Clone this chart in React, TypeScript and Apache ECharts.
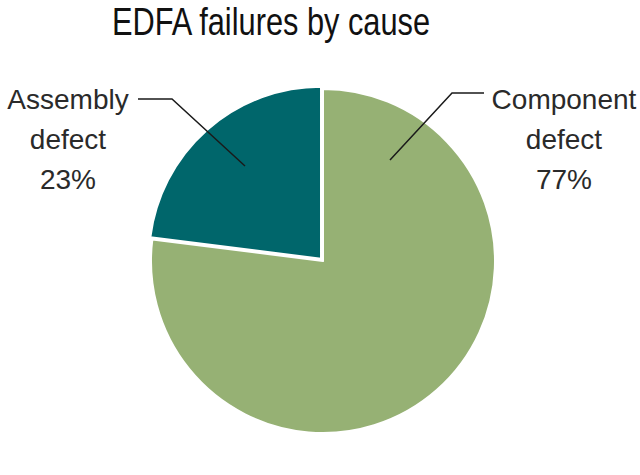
import React, { useEffect, useRef } from "react";
import * as echarts from "echarts";

const titleText = "EDFA failures by cause";
const categories = ["Component\ndefect", "Assembly\ndefect"];
const values = [77, 23];
const colors = ["#96b174", "#00666b"];

export default function App() {
  const ref = useRef<HTMLDivElement>(null);
  useEffect(() => {
    if (!ref.current) return;
    const chart = echarts.init(ref.current, null, { renderer: "svg" });
    const labelPos = [
      { x: 564, y: 139, line: [[390, 160], [452, 93], [484, 93]] },
      { x: 68, y: 139, line: [[245, 166], [172, 99], [138, 99]] },
    ];
    const labelFont = "'Liberation Sans', Arial, sans-serif";
    const graphics: any[] = [
      {
        type: "text",
        x: 112,
        y: 3,
        scaleX: 0.81,
        z: 10,
        style: {
          text: titleText,
          x: 0,
          y: 0,
          fontFamily: labelFont,
          fontSize: 38,
          fill: "#111",
          textAlign: "left",
          textVerticalAlign: "top",
        },
      },
    ];
    categories.forEach((c, i) => {
      const p = labelPos[i];
      graphics.push({
        type: "text",
        z: 10,
        style: {
          text: `${c}\n${values[i]}%`,
          x: p.x,
          y: p.y,
          fontFamily: labelFont,
          fontSize: 28,
          lineHeight: 40,
          fill: "#2a2a2a",
          textAlign: "center",
          textVerticalAlign: "middle",
        },
      });
      graphics.push({
        type: "polyline",
        z: 10,
        shape: { points: p.line },
        style: { stroke: "#1a1a1a", lineWidth: 1.5, fill: null },
      });
    });
    chart.setOption({
      animation: false,
      graphic: graphics,
      series: [
        {
          type: "pie",
          center: [323, 261],
          radius: 172,
          startAngle: 90,
          clockwise: true,
          selectedMode: "single",
          selectedOffset: 3,
          silent: true,
          z: 2,
          itemStyle: { borderColor: "#fff", borderWidth: 2 },
          label: { show: false },
          labelLine: { show: false },
          data: categories.map((c, i) => ({
            name: c,
            value: values[i],
            selected: i === 1,
            itemStyle: { color: colors[i] },
          })),
        },
      ],
    });
    return () => chart.dispose();
  }, []);
  return (
    <div
      ref={ref}
      style={{ position: "fixed", left: 0, top: 0, width: 640, height: 475, background: "#fff" }}
    />
  );
}
